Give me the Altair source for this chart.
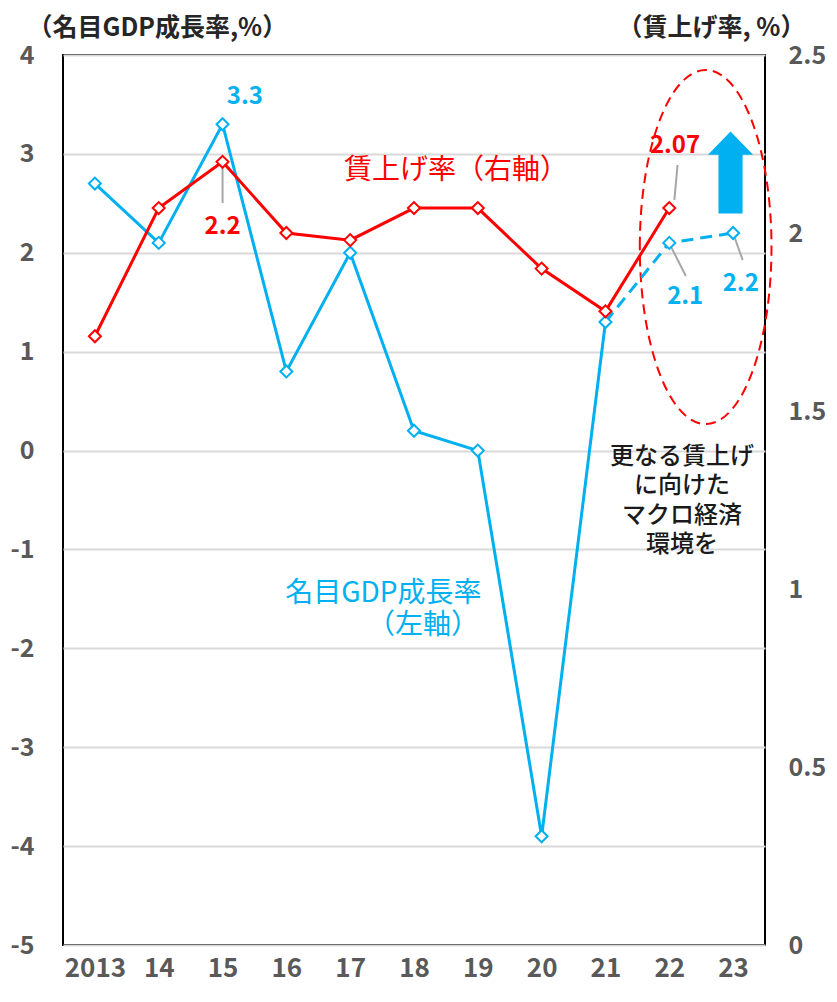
import altair as alt
import pandas as pd

# ---------------- data ----------------
years = ["2013", "14", "15", "16", "17", "18", "19", "20", "21", "22", "23"]
gdp_growth = [2.7, 2.1, 3.3, 0.8, 2.0, 0.2, 0.0, -3.9, 1.3, 2.1, 2.2]      # left axis
wage_rate = [1.71, 2.07, 2.20, 2.00, 1.98, 2.07, 2.07, 1.90, 1.78, 2.07]   # right axis
dash_from = 8  # GDP line is dashed from "21" onward (forecast)

left_ticks = [-5, -4, -3, -2, -1, 0, 1, 2, 3, 4]
right_ticks = [0, 0.5, 1, 1.5, 2, 2.5]

# value labels: text, x (index), y (axis value)
blue_lab_text = ["3.3", "2.1", "2.2"]
blue_lab_x = [2.35, 9.25, 10.12]
blue_lab_y = [3.575, 1.548, 1.684]
red_lab_text = ["2.2", "2.07"]
red_lab_x = [2.0, 9.09]
red_lab_y = [2.017, 2.243]

# leader lines
blue_lead_x = [9.0, 10.01]
blue_lead_x2 = [9.26, 10.15]
blue_lead_y = [2.096, 2.18]
blue_lead_y2 = [1.765, 1.927]
red_lead_x = [2.0, 9.13]
red_lead_x2 = [2.0, 9.08]
red_lead_y = [2.183, 2.191]
red_lead_y2 = [2.084, 2.093]

# annotation texts
note_lines = ["更なる賃上げ", "に向けた", "マクロ経済", "環境を"]
note_x = [9.2, 9.2, 9.2, 9.2]
note_y = [-0.07, -0.363, -0.657, -0.95]
gdp_name = ["名目GDP成長率", "（左軸）"]
gdp_name_x = [4.52, 5.14]
gdp_name_y = [-1.45, -1.774]
wage_name = ["賃上げ率（右軸）"]
wage_name_x = [5.66]
wage_name_y = [2.173]

# highlight ellipse and arrow (centre positions)
ellipse_x, ellipse_y = [9.57], [2.058]
arrow_x, arrow_y = [9.96], [2.812]

BLUE = "#00B0F0"
RED = "#FF0000"
TICK_GRAY = "#595959"
LEADER = "#A6A6A6"
FONT = "Noto Sans CJK JP"

idx = list(range(len(years)))
blue_df = pd.DataFrame({"i": idx, "v": gdp_growth})
blue_solid = blue_df[blue_df.i <= dash_from]
blue_dash = blue_df[blue_df.i >= dash_from]
red_df = pd.DataFrame({"i": idx[: len(wage_rate)], "v": wage_rate})

label_expr = "[" + ",".join("'%s'" % y for y in years) + "][datum.value]"

x_scale = alt.Scale(domain=[-0.5, len(years) - 0.5], nice=False, zero=False)
axis_x = alt.Axis(values=idx, labelExpr=label_expr, grid=False, ticks=False, domain=False,
                  labelFont=FONT, labelFontSize=26, labelFontWeight="bold", labelColor=TICK_GRAY,
                  labelPadding=10, title=None)

yl_scale = alt.Scale(domain=[-5, 4], nice=False, zero=False)
axis_l = alt.Axis(values=left_ticks, labelExpr="'' + datum.value", grid=True, gridColor="#D9D9D9",
                  gridWidth=2, ticks=False, domain=False, labelFont=FONT, labelFontSize=25,
                  labelFontWeight="bold", labelColor=TICK_GRAY, labelPadding=29, orient="left",
                  title="（名目GDP成長率,%）", titleAngle=0, titleAlign="left", titleBaseline="middle",
                  titleX=-36, titleY=-28, titleFont=FONT, titleFontSize=25, titleFontWeight="bold",
                  titleColor="#262626")

yr_scale = alt.Scale(domain=[0, 2.5], nice=False, zero=False)
axis_r = alt.Axis(values=right_ticks, labelExpr="'' + datum.value", grid=False, ticks=False,
                  domain=False, labelFont=FONT, labelFontSize=25, labelFontWeight="bold",
                  labelColor=TICK_GRAY, labelPadding=23, orient="right",
                  title="（賃上げ率, %）", titleAngle=0, titleAlign="left", titleBaseline="middle",
                  titleX=-148, titleY=-28, titleFont=FONT, titleFontSize=25, titleFontWeight="bold",
                  titleColor="#262626")


def X(f="i"):
    return alt.X(f, type="quantitative", scale=x_scale, axis=axis_x)


def X2(f):
    return alt.X2(f)


def YL(f="v"):
    return alt.Y(f, type="quantitative", scale=yl_scale, axis=axis_l)


def YR(f="v"):
    return alt.Y(f, type="quantitative", scale=yr_scale, axis=axis_r)


diamond = dict(shape="diamond", size=144, filled=True, fill="white", strokeWidth=2, opacity=1)

# ----- left-axis layer (GDP) -----
b_line = alt.Chart(blue_solid).mark_line(color=BLUE, strokeWidth=3).encode(x=X(), y=YL())
b_dash = alt.Chart(blue_dash).mark_line(color=BLUE, strokeWidth=3, strokeDash=[12, 7]).encode(x=X(), y=YL())
b_pts = alt.Chart(blue_df).mark_point(stroke=BLUE, **diamond).encode(x=X(), y=YL())

b_lead = alt.Chart(pd.DataFrame({"i": blue_lead_x, "i2": blue_lead_x2, "v": blue_lead_y, "v2": blue_lead_y2})
                   ).mark_rule(color=LEADER, strokeWidth=2).encode(x=X(), x2=X2("i2"), y=YL(), y2=alt.Y2("v2"))
b_lab = alt.Chart(pd.DataFrame({"i": blue_lab_x, "v": blue_lab_y, "t": blue_lab_text})).mark_text(
    font=FONT, fontSize=24, fontWeight="bold", color=BLUE, baseline="middle", align="center"
).encode(x=X(), y=YL(), text="t:N")

ellipse_path = "M-0.372,0A0.372,1 0 1,1 0.372,0A0.372,1 0 1,1 -0.372,0Z"
ellipse = alt.Chart(pd.DataFrame({"i": ellipse_x, "v": ellipse_y})).mark_point(
    shape=ellipse_path, size=354 * 354, filled=False, stroke=RED, strokeWidth=2,
    strokeDash=[10, 6], opacity=1
).encode(x=X(), y=YL())

arrow_path = "M0,-1L0.55,-0.43L0.294,-0.43L0.294,1L-0.294,1L-0.294,-0.43L-0.55,-0.43Z"
arrow = alt.Chart(pd.DataFrame({"i": arrow_x, "v": arrow_y})).mark_point(
    shape=arrow_path, size=82 * 82, filled=True, fill=BLUE, strokeWidth=0, opacity=1
).encode(x=X(), y=YL())

note = alt.Chart(pd.DataFrame({"i": note_x, "v": note_y, "t": note_lines})).mark_text(
    font=FONT, fontSize=24, fontWeight=500, color="#1a1a1a", baseline="middle", align="center"
).encode(x=X(), y=YL(), text="t:N")

gdp_txt = alt.Chart(pd.DataFrame({"i": gdp_name_x, "v": gdp_name_y, "t": gdp_name})).mark_text(
    font=FONT, fontSize=28, color=BLUE, baseline="middle", align="center"
).encode(x=X(), y=YL(), text="t:N")

left = alt.layer(ellipse, b_line, b_dash, b_lead, b_pts, b_lab, arrow, note, gdp_txt)

# ----- right-axis layer (wage) -----
r_line = alt.Chart(red_df).mark_line(color=RED, strokeWidth=3).encode(x=X(), y=YR())
r_pts = alt.Chart(red_df).mark_point(stroke=RED, **diamond).encode(x=X(), y=YR())
r_lead = alt.Chart(pd.DataFrame({"i": red_lead_x, "i2": red_lead_x2, "v": red_lead_y, "v2": red_lead_y2})
                   ).mark_rule(color=LEADER, strokeWidth=2).encode(x=X(), x2=X2("i2"), y=YR(), y2=alt.Y2("v2"))
r_lab = alt.Chart(pd.DataFrame({"i": red_lab_x, "v": red_lab_y, "t": red_lab_text})).mark_text(
    font=FONT, fontSize=24, fontWeight="bold", color=RED, baseline="middle", align="center"
).encode(x=X(), y=YR(), text="t:N")
wage_txt = alt.Chart(pd.DataFrame({"i": wage_name_x, "v": wage_name_y, "t": wage_name})).mark_text(
    font=FONT, fontSize=28, color=RED, baseline="middle", align="center"
).encode(x=X(), y=YR(), text="t:N")

right = alt.layer(r_line, r_lead, r_pts, r_lab, wage_txt)

chart = alt.layer(left, right).resolve_scale(y="independent").properties(
    width=702, height=890,
    autosize=alt.AutoSizeParams(type="none"),
    padding={"left": 55, "top": 47, "right": 64, "bottom": 45},
    background="white",
).configure_view(stroke="black", strokeWidth=2)

chart.save("out.html", embed_options={"renderer": "svg", "actions": False})
